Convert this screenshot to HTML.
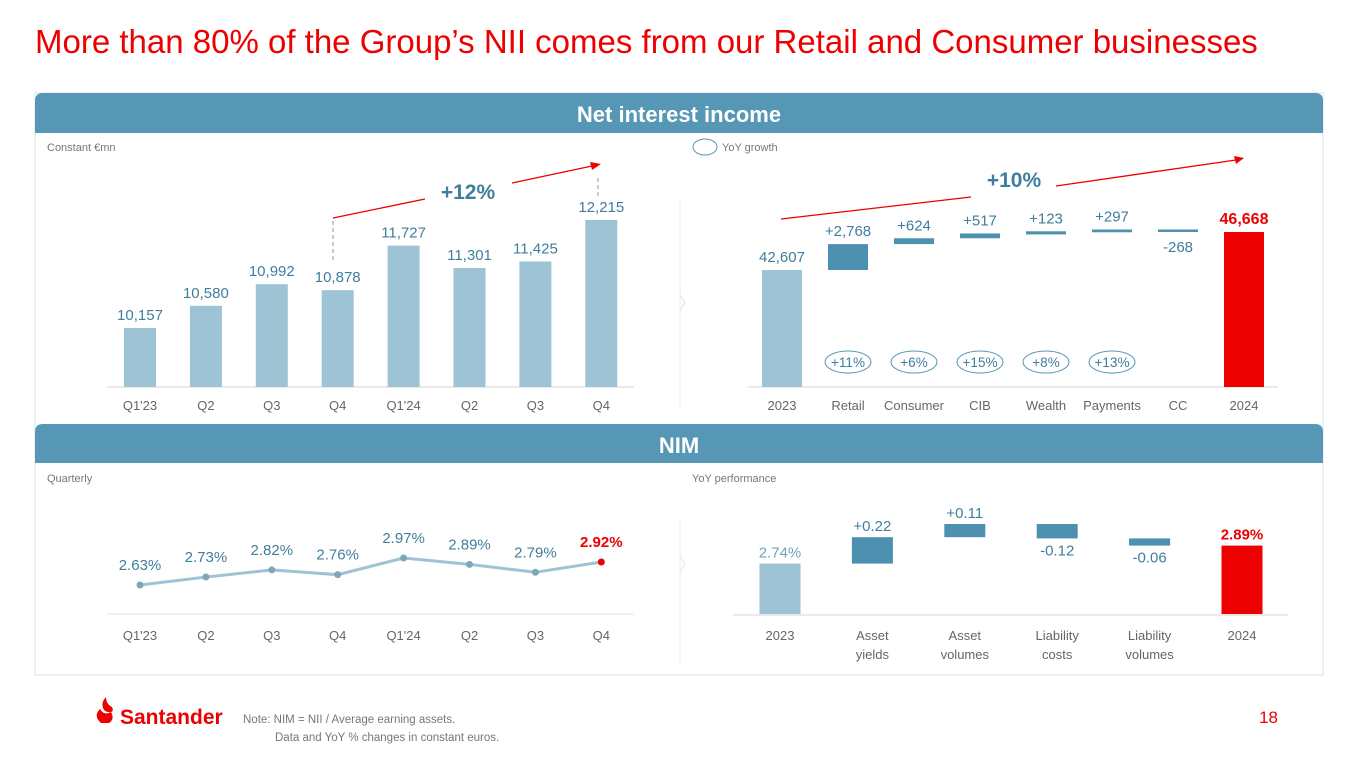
<!DOCTYPE html>
<html><head><meta charset="utf-8">
<style>
html,body{margin:0;padding:0;background:#fff;}
body{width:1365px;height:768px;overflow:hidden;font-family:"Liberation Sans",sans-serif;}
svg text{font-family:"Liberation Sans",sans-serif;}
</style></head>
<body>
<svg id="s" width="1365" height="768" viewBox="0 0 1365 768">
  <text x="35" y="53" font-size="33" fill="#ec0000">More than 80% of the Group’s NII comes from our Retail and Consumer businesses</text>
  <rect x="35" y="93" width="1288" height="582" fill="#fff" stroke="#d3e3ea" stroke-width="1"/>
  <path d="M35,133 V101 Q35,93 43,93 H1315 Q1323,93 1323,101 V133 Z" fill="#5597b4"/>
  <text x="679" y="122" font-size="22" font-weight="bold" fill="#fff" text-anchor="middle">Net interest income</text>
  <path d="M35,463 V432 Q35,424 43,424 H1315 Q1323,424 1323,432 V463 Z" fill="#5597b4"/>
  <text x="679" y="453" font-size="22" font-weight="bold" fill="#fff" text-anchor="middle">NIM</text>
  <text x="47" y="151" font-size="11" fill="#777">Constant €mn</text>
  <ellipse cx="705" cy="147" rx="12" ry="8" fill="none" stroke="#5597b4" stroke-width="1"/>
  <text x="722" y="151" font-size="11" fill="#777">YoY growth</text>
  <text x="47" y="482" font-size="11" fill="#777">Quarterly</text>
  <text x="692" y="482" font-size="11" fill="#777">YoY performance</text>
  <line x1="680" y1="200" x2="680" y2="410" stroke="#e6eef2"/>
  <path d="M680,295 L685,303 L680,311" fill="none" stroke="#dde6ea"/>
  <line x1="680" y1="520" x2="680" y2="665" stroke="#e6eef2"/>
  <path d="M680,556 L685,564 L680,572" fill="none" stroke="#dde6ea"/>
  <g>
    <path d="M101,723 Q93,716 100,709 Q104,716 111,712 Q115,719 109,723 Z" fill="#ec0000"/>
    <path d="M103,708 Q101,702 106,697 Q106,704 112,707 Q114,711 111,712 Q105,713 103,708Z" fill="#ec0000"/>
    <text x="120" y="724" font-size="21" font-weight="bold" fill="#ec0000">Santander</text>
  </g>
  <text x="243" y="723" font-size="11.5" fill="#777">Note: NIM = NII / Average earning assets.</text>
  <text x="275" y="741" font-size="11.5" fill="#777">Data and YoY % changes in constant euros.</text>
  <text x="1278" y="723" font-size="17" fill="#ec0000" text-anchor="end">18</text>
</svg>
<script>
const niiQuarters = ["Q1'23","Q2","Q3","Q4","Q1'24","Q2","Q3","Q4"];
const niiValues = [10157,10580,10992,10878,11727,11301,11425,12215];
const niiLabels = ["10,157","10,580","10,992","10,878","11,727","11,301","11,425","12,215"];
const wfCats = ["2023","Retail","Consumer","CIB","Wealth","Payments","CC","2024"];
const wfDeltas = [42607,2768,624,517,123,297,-268,46668];
const wfLabels = ["42,607","+2,768","+624","+517","+123","+297","-268","46,668"];
const wfGrowth = ["","+11%","+6%","+15%","+8%","+13%","",""];
const nimQuarters = ["Q1'23","Q2","Q3","Q4","Q1'24","Q2","Q3","Q4"];
const nimValues = [2.63,2.73,2.82,2.76,2.97,2.89,2.79,2.92];
const nimLabels = ["2.63%","2.73%","2.82%","2.76%","2.97%","2.89%","2.79%","2.92%"];
const nwCats = [["2023"],["Asset","yields"],["Asset","volumes"],["Liability","costs"],["Liability","volumes"],["2024"]];
const nwDeltas = [2.74,0.22,0.11,-0.12,-0.06,2.89];
const nwLabels = ["2.74%","+0.22","+0.11","-0.12","-0.06","2.89%"];

const NS="http://www.w3.org/2000/svg";
const svg=document.getElementById('s');
function mk(tag,attrs,parent){const e=document.createElementNS(NS,tag);for(const k in attrs)e.setAttribute(k,attrs[k]);(parent||svg).appendChild(e);return e;}
function txt(x,y,s,size,fill,extra,parent){const e=mk('text',Object.assign({x:x,y:y,'font-size':size,fill:fill,'text-anchor':'middle'},extra||{}),parent);e.textContent=s;return e;}
const LBL="#3f7e9c", AX="#666", LIGHT="#9dc3d4", DARK="#4d90b0", RED="#ec0000";

const g1=mk('g',{});


const x1=i=>140+i*65.9;
const y1=v=>387-(v-9033)*0.05248;
const bl1=mk('line',{x1:107,x2:634,y1:387,y2:387,stroke:"#d5d5d5"},g1);


niiValues.forEach((v,i)=>{
  const r=mk('rect',{x:x1(i)-16,y:y1(v),width:32,height:387-y1(v),fill:LIGHT},g1);
  
  
  const t=txt(x1(i),y1(v)-8,niiLabels[i],15,LBL,{},g1);
  
  
  const a=txt(x1(i),410,niiQuarters[i],13,AX,{},g1);
  
  
});
const d1=mk('line',{x1:333,y1:221,x2:333,y2:260,stroke:"#999",'stroke-dasharray':"4,3"},g1);


const d2=mk('line',{x1:598,y1:178,x2:598,y2:196,stroke:"#999",'stroke-dasharray':"4,3"},g1);


const ar1=mk('path',{d:"M333,218 L425,199 M512,183 L592,166",stroke:RED,'stroke-width':1.3,fill:"none"},g1);


mk('path',{d:"M601,164 L590,162 L592,170 Z",fill:RED},g1);
const gt1=txt(468,199,"+12%",21,"#3f7e9c",{'font-weight':'bold'},g1);



const g2=mk('g',{});


const x2=i=>782+i*66;
const y2=v=>387-(v-30103)*0.009357;
const bl2=mk('line',{x1:748,x2:1278,y1:387,y2:387,stroke:"#d5d5d5"},g2);


let run=wfDeltas[0];
wfDeltas.forEach((d,i)=>{
  let top,bot,fill,lblY;
  if(i===0){top=y2(d);bot=387;fill=LIGHT;lblY=top-8;}
  else if(i===wfDeltas.length-1){top=y2(d);bot=387;fill=RED;lblY=top-8;}
  else{const a=run,b=run+d;run=b;top=y2(Math.max(a,b));bot=y2(Math.min(a,b));fill=DARK;
       if(bot-top<2){top-=1;bot+=1;} lblY=d<0?bot+20:top-8;}
  const r=mk('rect',{x:x2(i)-20,y:top,width:40,height:bot-top,fill:fill},g2);
  
  
  const last=i===wfDeltas.length-1;
  const t=txt(x2(i),lblY,wfLabels[i],last?16:15,last?RED:LBL,last?{'font-weight':'bold'}:{},g2);
  
  
  const c=txt(x2(i),410,wfCats[i],13,AX,{},g2);
  
  
  if(wfGrowth[i]){
    const e=mk('ellipse',{cx:x2(i),cy:362,rx:23,ry:11,fill:"none",stroke:"#5597b4",'stroke-width':1},g2);
    
    
    const gt=txt(x2(i),367,wfGrowth[i],13.5,LBL,{},g2);
    
    
  }
});
const ar2=mk('path',{d:"M781,219 L971,197 M1056,186 L1236,160",stroke:RED,'stroke-width':1.3,fill:"none"},g2);


mk('path',{d:"M1244,158 L1234,156 L1236,164 Z",fill:RED},g2);
const gt2=txt(1014,187,"+10%",21,"#3f7e9c",{'font-weight':'bold'},g2);



const g3=mk('g',{});


const x3=i=>140+i*65.9;
const y3=v=>585-(v-2.63)*79.4;
const bl3=mk('line',{x1:107,x2:634,y1:614,y2:614,stroke:"#e3e3e3"},g3);


const ln=mk('polyline',{points:nimValues.map((v,i)=>x3(i)+','+y3(v)).join(' '),fill:"none",stroke:LIGHT,'stroke-width':3},g3);


nimValues.forEach((v,i)=>{
  const last=i===nimValues.length-1;
  const p=mk('circle',{cx:x3(i),cy:y3(v),r:3.5,fill:last?RED:"#7fa7ba"},g3);
  
  
  const t=txt(x3(i),y3(v)-15,nimLabels[i],15,last?RED:LBL,last?{'font-weight':'bold'}:{},g3);
  
  
  const a=txt(x3(i),640,nimQuarters[i],13,AX,{},g3);
  
  
});

const g4=mk('g',{});


const x4=i=>780+i*92.4;
const y4=v=>614-(v-2.32)*120;
const bl4=mk('line',{x1:733,x2:1288,y1:615,y2:615,stroke:"#d5d5d5"},g4);


let run2=nwDeltas[0];
nwDeltas.forEach((d,i)=>{
  let top,bot,fill,lblY;
  const last=i===nwDeltas.length-1;
  if(i===0){top=y4(d);bot=614;fill=LIGHT;lblY=top-6;}
  else if(last){top=y4(d);bot=614;fill=RED;lblY=top-6;}
  else{const a=run2,b=run2+d;run2=b;top=y4(Math.max(a,b));bot=y4(Math.min(a,b));fill=DARK;lblY=d<0?bot+17:top-6;}
  const r=mk('rect',{x:x4(i)-20.5,y:top,width:41,height:bot-top,fill:fill},g4);
  
  
  const t=txt(x4(i),lblY,nwLabels[i],15,last?RED:(i===0?"#6ea4bd":LBL),last?{'font-weight':'bold'}:{},g4);
  
  
  nwCats[i].forEach((s,k)=>{
    const c=txt(x4(i),640+k*19,s,13,AX,{},g4);
    
    
  });
});
</script>
</body></html>
